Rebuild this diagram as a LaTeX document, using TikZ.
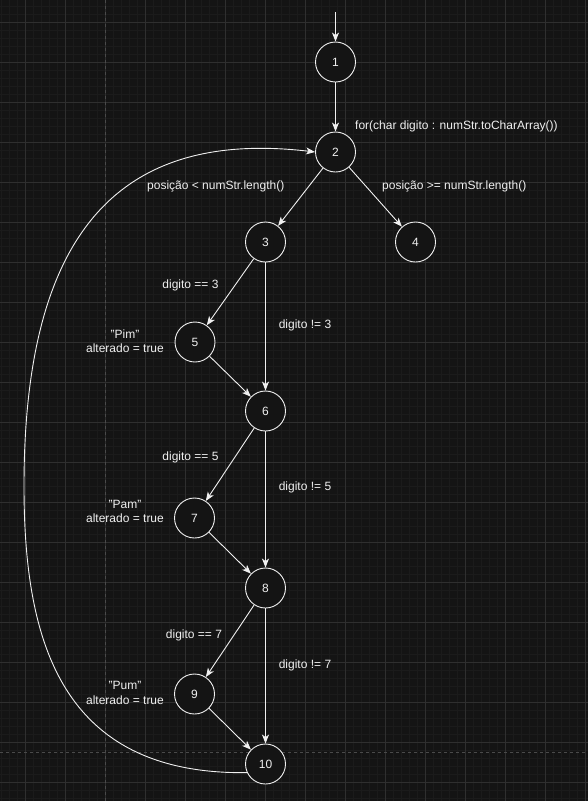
\documentclass[tikz,border=0pt]{standalone}
\usepackage{fontspec}
\setmainfont{Liberation Sans}
\usetikzlibrary{arrows.meta}
\definecolor{bgc}{HTML}{141414}
\definecolor{gridmin}{HTML}{1B1B1B}
\definecolor{gridmaj}{HTML}{2F2F2F}
\definecolor{pagec}{HTML}{4A4A4A}
\definecolor{ink}{HTML}{F0F0F0}
\tikzset{
  vtx/.style   = {draw=ink, circle, fill=bgc, minimum size=40pt,
                  inner sep=0pt, line width=0.9pt, text=ink},
  ar/.style    = {-{Stealth[length=9pt,width=7pt,inset=2.5pt]},
                  draw=ink, line width=0.9pt},
  lbl/.style   = {text=ink, inner sep=0pt, align=center},
  minorln/.style = {draw=gridmin, line width=0.6pt},
  majorln/.style = {draw=gridmaj, line width=0.6pt},
  pageln/.style  = {draw=pagec, line width=0.8pt, dash pattern=on 3pt off 3pt},
}

\begin{document}
\begin{tikzpicture}[x=1pt, y=-1pt, font=\fontsize{12}{14.5}\selectfont]

% ===== canvas and grid =====
\fill[bgc] (0,0) rectangle (588,801);
\useasboundingbox (0,0) rectangle (588,801);
\foreach \x in {1,9,...,588}{\draw[minorln] (\x,0) -- (\x,801);}
\foreach \y in {6,14,...,801}{\draw[minorln] (0,\y) -- (588,\y);}
\foreach \x in {25,65,...,588}{\draw[majorln] (\x,0) -- (\x,801);}
\foreach \y in {22,62,...,801}{\draw[majorln] (0,\y) -- (588,\y);}
\draw[pageln] (105,0) -- (105,801);
\draw[pageln] (0,752) -- (588,752);

% ===== vertices =====
\node[vtx] (n1)  at (335.5,62)  {1};
\node[vtx] (n2)  at (335.5,152) {2};
\node[vtx] (n3)  at (265.5,242) {3};
\node[vtx] (n4)  at (415.5,242) {4};
\node[vtx] (n5)  at (195,342)   {5};
\node[vtx] (n6)  at (265.5,411) {6};
\node[vtx] (n7)  at (194.5,518) {7};
\node[vtx] (n8)  at (265.5,588) {8};
\node[vtx] (n9)  at (194.5,694) {9};
\node[vtx] (n10) at (265.5,764) {10};
\coordinate (start) at (335.5,12);

% ===== labels =====
\node[lbl, anchor=west] (forlbl) at (355,126)
     {for(char digito : numStr.toCharArray())};
\node[lbl, anchor=west] (ltlbl) at (147,186) {posição < numStr.length()};
\node[lbl, anchor=west] (gelbl) at (382,186) {posição >= numStr.length()};
\node[lbl] (eq3) at (190.5,285.5) {digito == 3};
\node[lbl] (ne3) at (305,325.5)   {digito != 3};
\node[lbl] (eq5) at (190.5,457)   {digito == 5};
\node[lbl] (ne5) at (305,487)     {digito != 5};
\node[lbl] (eq7) at (194,635)     {digito == 7};
\node[lbl] (ne7) at (305,665)     {digito != 7};
\node[lbl] (pim) at (125,341)   {"Pim"\\alterado = true};
\node[lbl] (pam) at (125,511.5) {"Pam"\\alterado = true};
\node[lbl] (pum) at (125,693)   {"Pum"\\alterado = true};

% ===== connections =====
\draw[ar] (start) -- (n1);
\draw[ar] (n1) -- (n2);
\draw[ar] (n2) -- (n3);
\draw[ar] (n2) -- (n4);
\draw[ar] (n3) -- (n5);
\draw[ar] (n3) -- (n6);
\draw[ar] (n5) -- (n6);
\draw[ar] (n6) -- (n7);
\draw[ar] (n6) -- (n8);
\draw[ar] (n7) -- (n8);
\draw[ar] (n8) -- (n9);
\draw[ar] (n8) -- (n10);
\draw[ar] (n9) -- (n10);
% loop back from 10 to 2
\draw[ar] (n10.205) .. controls (60,775) and (24,640) .. (24,486)
      .. controls (24,231) and (120,129) .. (n2.west);
\end{tikzpicture}
\end{document}
